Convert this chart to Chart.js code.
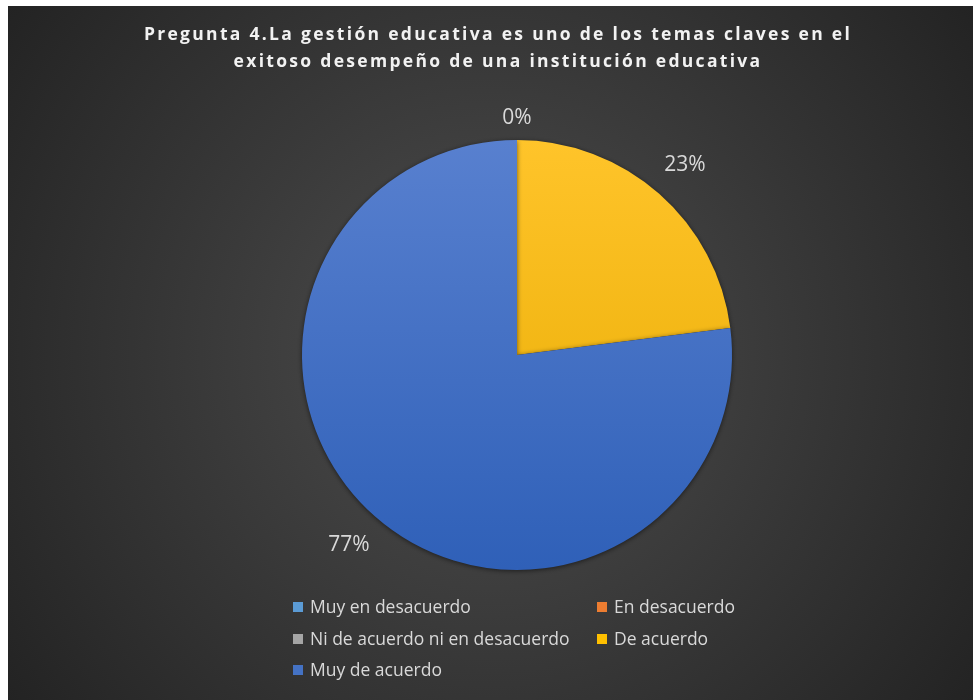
<!DOCTYPE html>
<html>
<head>
<meta charset="utf-8">
<script src="https://cdn.jsdelivr.net/npm/chart.js@4"></script>
<style>
  html,body{margin:0;padding:0;background:#fff;}
  #wrap{position:absolute;left:8px;top:6px;width:965px;height:694px;}
</style>
</head>
<body>
<div id="wrap"><canvas id="pie"></canvas></div>
<script>
// data
const titleLines = ["Pregunta 4.La gestión educativa es uno de los temas claves en el",
                    "exitoso desempeño de una institución educativa"];
const categories = ["Muy en desacuerdo","En desacuerdo","Ni de acuerdo ni en desacuerdo","De acuerdo","Muy de acuerdo"];
const percents = [0, 0, 0, 23, 77];
const legendColors = ["#5B9BD5","#ED7D31","#A5A5A5","#FFC000","#4472C4"];
const gradTop = ["#6aa6dc","#f08a44","#b0b0b0","#ffc42a","#5880cf"];
const gradBottom = ["#4a8acb","#dd6d22","#979797","#e6aa00","#2f60b8"];

function sliceFill(ctx){
  const ca = ctx.chart.chartArea;
  if(!ca) return legendColors[ctx.dataIndex];
  const g = ctx.chart.ctx.createLinearGradient(0, ca.top, 0, ca.bottom);
  g.addColorStop(0, gradTop[ctx.dataIndex]);
  g.addColorStop(1, gradBottom[ctx.dataIndex]);
  return g;
}

const decor = {
  id:'decor',
  beforeDraw(chart){
    const c = chart.ctx, w = chart.width, h = chart.height;
    c.save();
    const g = c.createRadialGradient(w*0.5, h*0.5, 0, w*0.5, h*0.5, Math.hypot(w,h)*0.5);
    g.addColorStop(0, "#4e4e4e");
    g.addColorStop(1, "#232323");
    c.fillStyle = g;
    c.fillRect(0,0,w,h);
    c.restore();
  },
  beforeDatasetsDraw(chart){
    const c = chart.ctx;
    c.save();
    c.shadowColor = "rgba(0,0,0,0.55)";
    c.shadowBlur = 5;
    c.shadowOffsetY = 1;
  },
  afterDatasetsDraw(chart){
    chart.ctx.restore();
  },
  afterDraw(chart){
    const c = chart.ctx;
    c.save();
    // title
    c.fillStyle = "#f2f2f2";
    c.font = "bold 17.5px 'Open Sans'";
    c.letterSpacing = "2.3px";
    c.textAlign = "center";
    c.textBaseline = "middle";
    c.fillText(titleLines[0], 490, 29);
    c.fillText(titleLines[1], 490, 56);
    c.letterSpacing = "0px";

    // data labels (zero slices share one spot, draw it once)
    const meta = chart.getDatasetMeta(0);
    c.font = "21px 'Open Sans'";
    c.fillStyle = "#d9d9d9";
    const seen = {};
    meta.data.forEach((arc, i) => {
      const p = arc.getProps(['x','y','startAngle','endAngle','outerRadius'], true);
      const mid = (p.startAngle + p.endAngle) / 2;
      const txt = percents[i] + "%";
      const tw = c.measureText(txt).width;
      const dx = Math.cos(mid), dy = Math.sin(mid);
      const off = p.outerRadius + 12 + (tw/2)*Math.abs(dx)*1.4 + 10*Math.abs(dy);
      const x = Math.round(p.x + dx*off), y = Math.round(p.y + dy*off);
      if(seen[txt+x+"_"+y]) return;
      seen[txt+x+"_"+y] = true;
      c.fillText(txt, x, y);
    });

    // legend
    c.font = "17.5px 'Open Sans'";
    c.textAlign = "left";
    const cols = [285, 589], rows = [601, 633, 664];
    categories.forEach((name, i) => {
      const x = cols[i % 2], y = rows[Math.floor(i / 2)];
      c.fillStyle = legendColors[i];
      c.fillRect(x, y - 5, 10, 10);
      c.fillStyle = "#d9d9d9";
      c.fillText(name, x + 17, y + 1);
    });
    c.restore();
  }
};

new Chart(document.getElementById('pie').getContext('2d'), {
  type: 'pie',
  data: {
    labels: categories,
    datasets: [{
      data: percents,
      backgroundColor: sliceFill,
      borderWidth: 0
    }]
  },
  options: {
    responsive: true,
    maintainAspectRatio: false,
    animation: false,
    layout: { padding: { left: 294, right: 241, top: 134, bottom: 130 } },
    plugins: {
      legend: { display: false },
      title: { display: false },
      tooltip: { enabled: false }
    }
  },
  plugins: [decor]
});
</script>
</body>
</html>
